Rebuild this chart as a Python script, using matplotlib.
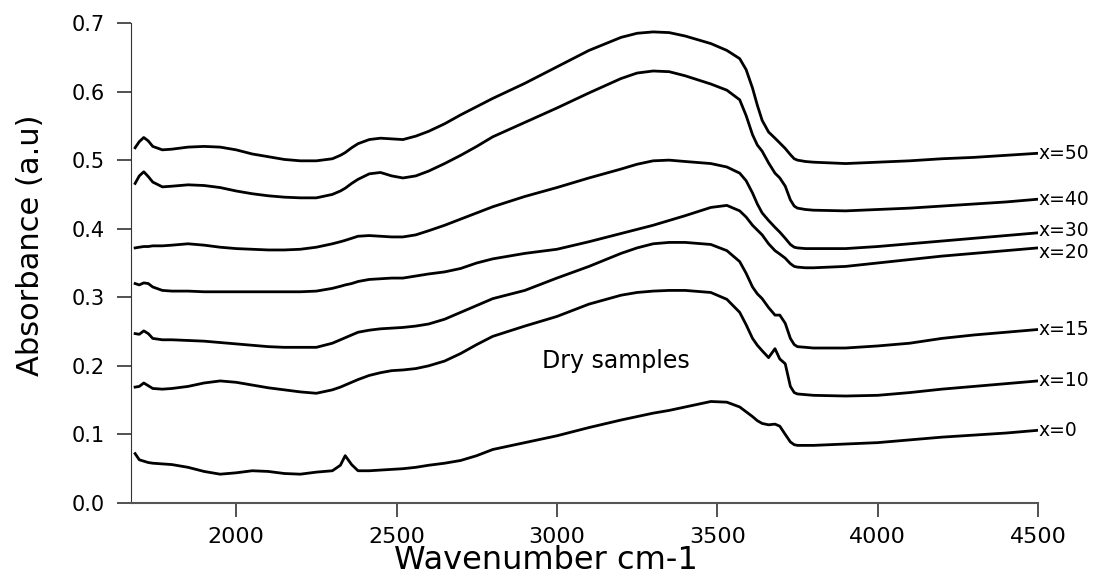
import numpy as np
import matplotlib.pyplot as plt

# wavenumber grid (cm-1) shared by all spectra
wn = [1685, 1698, 1712, 1726, 1740, 1770, 1800, 1850, 1900, 1950, 2000, 2050, 2100, 2150,
      2200, 2250, 2300, 2325, 2340, 2360, 2380, 2415, 2450, 2485, 2520, 2560, 2600, 2650,
      2700, 2750, 2800, 2900, 3000, 3100, 3200, 3250, 3300, 3350, 3400, 3480, 3530, 3570,
      3590, 3610, 3625, 3640, 3660, 3680, 3695, 3712, 3728, 3740, 3750, 3775, 3800, 3900,
      4000, 4100, 4200, 4300, 4400, 4500]

x50 = [0.518, 0.527, 0.533, 0.528, 0.520, 0.515, 0.516, 0.519, 0.520, 0.519, 0.515, 0.509, 0.505, 0.501,
       0.499, 0.499, 0.502, 0.507, 0.511, 0.518, 0.524, 0.530, 0.532, 0.531, 0.530, 0.535, 0.542, 0.553,
       0.566, 0.578, 0.590, 0.612, 0.636, 0.660, 0.679, 0.685, 0.687, 0.686, 0.681, 0.670, 0.660, 0.648,
       0.632, 0.605, 0.580, 0.558, 0.541, 0.532, 0.525, 0.517, 0.508, 0.502, 0.500, 0.498, 0.497, 0.495,
       0.497, 0.499, 0.502, 0.504, 0.507, 0.510]
x40 = [0.466, 0.477, 0.483, 0.476, 0.468, 0.461, 0.462, 0.464, 0.463, 0.460, 0.455, 0.451, 0.448, 0.446,
       0.445, 0.445, 0.450, 0.455, 0.459, 0.466, 0.472, 0.480, 0.482, 0.477, 0.474, 0.477, 0.484, 0.495,
       0.507, 0.520, 0.534, 0.555, 0.576, 0.598, 0.619, 0.627, 0.630, 0.629, 0.623, 0.611, 0.602, 0.588,
       0.565, 0.537, 0.522, 0.513, 0.496, 0.481, 0.474, 0.462, 0.442, 0.433, 0.430, 0.428, 0.427, 0.426,
       0.428, 0.430, 0.433, 0.436, 0.439, 0.443]
x30 = [0.372, 0.373, 0.374, 0.374, 0.375, 0.375, 0.376, 0.378, 0.376, 0.373, 0.371, 0.370, 0.369, 0.369,
       0.370, 0.373, 0.378, 0.381, 0.383, 0.386, 0.389, 0.390, 0.389, 0.388, 0.388, 0.391, 0.397, 0.405,
       0.414, 0.423, 0.432, 0.447, 0.460, 0.474, 0.487, 0.494, 0.499, 0.500, 0.498, 0.495, 0.490, 0.481,
       0.470, 0.452, 0.436, 0.423, 0.412, 0.402, 0.395, 0.386, 0.377, 0.373, 0.372, 0.371, 0.371, 0.371,
       0.374, 0.378, 0.382, 0.386, 0.390, 0.394]
x20 = [0.320, 0.318, 0.321, 0.320, 0.315, 0.310, 0.309, 0.309, 0.308, 0.308, 0.308, 0.308, 0.308, 0.308,
       0.308, 0.309, 0.313, 0.316, 0.318, 0.320, 0.323, 0.326, 0.327, 0.328, 0.328, 0.331, 0.334, 0.337,
       0.342, 0.350, 0.356, 0.364, 0.370, 0.381, 0.393, 0.399, 0.405, 0.412, 0.419, 0.431, 0.434, 0.426,
       0.417, 0.405, 0.398, 0.391, 0.378, 0.368, 0.363, 0.357, 0.349, 0.345, 0.344, 0.343, 0.343, 0.345,
       0.350, 0.355, 0.360, 0.364, 0.368, 0.372]
x15 = [0.247, 0.246, 0.251, 0.247, 0.240, 0.238, 0.238, 0.237, 0.236, 0.234, 0.232, 0.230, 0.228, 0.227,
       0.227, 0.227, 0.233, 0.238, 0.241, 0.245, 0.249, 0.252, 0.254, 0.255, 0.256, 0.258, 0.261, 0.268,
       0.278, 0.288, 0.298, 0.310, 0.328, 0.345, 0.364, 0.372, 0.378, 0.380, 0.380, 0.377, 0.368, 0.352,
       0.335, 0.315, 0.305, 0.298, 0.285, 0.274, 0.274, 0.262, 0.240, 0.231, 0.228, 0.227, 0.226, 0.226,
       0.229, 0.233, 0.240, 0.245, 0.249, 0.253]
x10 = [0.169, 0.170, 0.175, 0.171, 0.167, 0.166, 0.167, 0.170, 0.175, 0.178, 0.176, 0.172, 0.168, 0.165,
       0.162, 0.160, 0.165, 0.169, 0.172, 0.176, 0.180, 0.186, 0.190, 0.193, 0.194, 0.196, 0.200, 0.207,
       0.218, 0.231, 0.243, 0.258, 0.272, 0.290, 0.303, 0.307, 0.309, 0.310, 0.310, 0.307, 0.297, 0.278,
       0.260, 0.240, 0.230, 0.222, 0.212, 0.225, 0.210, 0.203, 0.170, 0.161, 0.159, 0.158, 0.157, 0.156,
       0.157, 0.161, 0.166, 0.170, 0.174, 0.178]
x0 = [0.072, 0.063, 0.061, 0.059, 0.058, 0.057, 0.056, 0.052, 0.046, 0.042, 0.044, 0.047, 0.046, 0.043,
      0.042, 0.045, 0.047, 0.055, 0.069, 0.056, 0.047, 0.047, 0.048, 0.049, 0.050, 0.052, 0.055, 0.058,
      0.062, 0.069, 0.078, 0.088, 0.098, 0.110, 0.121, 0.126, 0.131, 0.135, 0.140, 0.148, 0.147, 0.140,
      0.133, 0.126, 0.120, 0.116, 0.114, 0.115, 0.112, 0.100, 0.089, 0.085, 0.084, 0.084, 0.084, 0.086,
      0.088, 0.092, 0.096, 0.099, 0.102, 0.106]

series = [x50, x40, x30, x20, x15, x10, x0]
labels = ['x=50', 'x=40', 'x=30', 'x=20', 'x=15', 'x=10', 'x=0']
label_dy = [0, 0, 0.004, -0.007, 0, 0, 0]   # small nudges so the close labels don't collide

fig = plt.figure(figsize=(10.94, 5.85), dpi=100)
ax = fig.add_axes([0.1197, 0.1402, 0.8291, 0.8205])

for ys, lab, dy in zip(series, labels, label_dy):
    ax.plot(wn, ys, color='black', lw=2.0, solid_joinstyle='round')
    ax.text(wn[-1], ys[-1] + dy, lab, ha='left', va='center', fontsize=13.5, clip_on=False)

ax.text(3185, 0.207, 'Dry samples', ha='center', va='center', fontsize=17)

ax.set_xlim(1672, 4500)
ax.set_ylim(0, 0.7)
ax.set_xticks([2000, 2500, 3000, 3500, 4000, 4500])
ax.set_yticks(np.arange(0, 0.71, 0.1))
ax.yaxis.set_major_formatter(plt.FormatStrFormatter('%.1f'))
ax.spines['top'].set_visible(False)
ax.spines['right'].set_visible(False)
ax.spines['left'].set_color('#333333')
ax.spines['bottom'].set_color('#555555')
ax.spines['bottom'].set_linewidth(1.5)
ax.tick_params(axis='both', direction='out', length=10, width=1.2, colors='#333333')
ax.tick_params(axis='x', labelsize=16, pad=7, labelcolor='black')
ax.tick_params(axis='y', labelsize=15, pad=9, labelcolor='black')

ax.set_xlabel('Wavenumber cm-1', fontsize=23)
ax.set_ylabel('Absorbance (a.u)', fontsize=22)
ax.xaxis.set_label_coords(0.457, -0.088)
ax.yaxis.set_label_coords(-0.095, 0.5375)

fig.savefig('out.png', dpi=100)
